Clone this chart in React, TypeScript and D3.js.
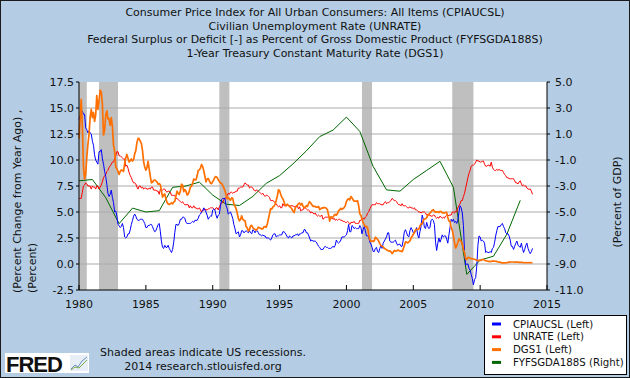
import React from "react";
import * as d3 from "d3";

// ---------- DATA (monthly from Jan 1980 unless noted) ----------
const START_YEAR = 1980;

const cpi: number[] = [
  13.9, 14.2, 14.8, 14.7, 14.4, 14.4, 13.1, 12.9, 12.6, 12.8, 12.6, 12.5,
  11.8, 11.4, 10.5, 10.0, 9.8, 9.6, 10.8, 10.8, 11.0, 10.1, 9.6, 8.9,
  8.4, 7.6, 6.8, 6.5, 6.7, 7.1, 6.4, 5.9, 5.0, 5.1, 4.6, 3.8,
  3.7, 3.5, 3.6, 3.9, 3.5, 2.6, 2.5, 2.6, 2.9, 2.9, 3.3, 3.8,
  4.2, 4.6, 4.8, 4.6, 4.3, 4.2, 4.2, 4.3, 4.3, 4.3, 4.1, 3.9,
  3.5, 3.5, 3.7, 3.7, 3.8, 3.8, 3.6, 3.3, 3.1, 3.2, 3.5, 3.8,
  3.9, 3.1, 2.2, 1.6, 1.5, 1.8, 1.6, 1.6, 1.8, 1.5, 1.3, 1.1,
  1.4, 2.1, 3.0, 3.8, 3.8, 3.7, 3.9, 4.3, 4.3, 4.5, 4.5, 4.4,
  4.0, 3.9, 3.9, 3.9, 3.9, 4.0, 4.1, 4.0, 4.2, 4.2, 4.2, 4.4,
  4.7, 4.8, 5.0, 5.1, 5.4, 5.2, 5.0, 4.7, 4.3, 4.5, 4.6, 4.6,
  5.2, 5.3, 5.2, 4.7, 4.4, 4.7, 4.8, 5.6, 6.2, 6.3, 6.3, 6.3,
  5.6, 5.3, 4.8, 4.9, 5.0, 4.7, 4.4, 3.8, 3.4, 2.9, 3.0, 3.1,
  2.6, 2.8, 3.2, 3.2, 3.0, 3.1, 3.2, 3.1, 3.0, 3.2, 3.0, 2.9,
  3.3, 3.2, 3.0, 3.2, 3.2, 3.0, 2.8, 2.8, 2.7, 2.8, 2.7, 2.7,
  2.5, 2.5, 2.5, 2.4, 2.3, 2.5, 2.8, 2.9, 2.9, 2.6, 2.7, 2.7,
  2.8, 2.8, 2.8, 3.1, 3.1, 3.0, 2.8, 2.6, 2.5, 2.7, 2.6, 2.5,
  2.7, 2.7, 2.8, 2.8, 2.9, 2.7, 2.9, 2.9, 3.0, 3.0, 3.3, 3.3,
  3.0, 3.0, 2.8, 2.5, 2.2, 2.3, 2.2, 2.2, 2.2, 2.1, 1.9, 1.7,
  1.6, 1.4, 1.4, 1.4, 1.6, 1.7, 1.6, 1.6, 1.5, 1.5, 1.5, 1.6,
  1.7, 1.6, 1.8, 2.3, 2.1, 2.0, 2.1, 2.3, 2.6, 2.6, 2.6, 2.7,
  2.8, 3.2, 3.8, 3.1, 3.1, 3.7, 3.6, 3.4, 3.5, 3.4, 3.4, 3.4,
  3.7, 3.5, 2.9, 3.3, 3.6, 3.2, 2.7, 2.7, 2.6, 2.1, 1.9, 1.6,
  1.2, 1.2, 1.5, 1.6, 1.2, 1.1, 1.5, 1.8, 1.5, 2.0, 2.2, 2.4,
  2.6, 3.0, 3.0, 2.2, 2.1, 2.1, 2.1, 2.2, 2.3, 2.0, 1.8, 1.9,
  1.9, 1.7, 1.7, 2.3, 3.1, 3.3, 3.0, 2.7, 2.6, 3.2, 3.5, 3.3,
  3.0, 3.0, 3.1, 3.5, 2.8, 2.5, 3.1, 3.6, 4.7, 4.3, 3.5, 3.4,
  4.0, 3.6, 3.4, 3.5, 4.2, 4.3, 4.2, 3.8, 2.1, 1.3, 2.0, 2.5,
  2.1, 2.4, 2.8, 2.6, 2.7, 2.7, 2.4, 2.0, 2.8, 3.5, 4.3, 4.1,
  4.3, 4.0, 4.1, 3.9, 4.2, 5.0, 5.6, 5.4, 4.9, 3.7, 1.1, -0.1,
  0.0, 0.0, -0.4, -0.6, -1.0, -1.4, -2.0, -1.5, -1.3, -0.2, 1.8, 2.7,
  2.6, 2.2, 2.3, 2.2, 2.0, 1.1, 1.2, 1.1, 1.1, 1.2, 1.1, 1.5,
  1.6, 2.1, 2.7, 3.2, 3.6, 3.6, 3.6, 3.8, 3.9, 3.6, 3.4, 3.0,
  2.9, 2.9, 2.7, 2.3, 1.7, 1.7, 1.4, 1.7, 2.0, 2.2, 1.8, 1.7,
  1.6, 2.0, 1.5, 1.1, 1.4, 1.8, 2.0, 1.5, 1.2, 1.0, 1.2, 1.5,
];

const unrate: number[] = [
  6.3, 6.3, 6.3, 6.9, 7.5, 7.6, 7.8, 7.7, 7.5, 7.5, 7.5, 7.2,
  7.5, 7.4, 7.4, 7.2, 7.5, 7.5, 7.2, 7.4, 7.6, 7.9, 8.3, 8.5,
  8.6, 8.9, 9.0, 9.3, 9.4, 9.6, 9.8, 9.8, 10.1, 10.4, 10.8, 10.8,
  10.4, 10.4, 10.3, 10.2, 10.1, 10.1, 9.4, 9.5, 9.2, 8.8, 8.5, 8.3,
  8.0, 7.8, 7.8, 7.7, 7.4, 7.2, 7.5, 7.5, 7.3, 7.4, 7.2, 7.3,
  7.3, 7.2, 7.2, 7.3, 7.2, 7.4, 7.4, 7.1, 7.1, 7.1, 7.0, 7.0,
  6.7, 7.2, 7.2, 7.1, 7.2, 7.2, 7.0, 6.9, 7.0, 7.0, 6.9, 6.6,
  6.6, 6.6, 6.6, 6.3, 6.3, 6.2, 6.1, 6.0, 5.9, 6.0, 5.8, 5.7,
  5.7, 5.7, 5.7, 5.4, 5.6, 5.4, 5.4, 5.6, 5.4, 5.4, 5.3, 5.3,
  5.4, 5.2, 5.0, 5.2, 5.2, 5.3, 5.2, 5.2, 5.3, 5.3, 5.4, 5.4,
  5.4, 5.3, 5.2, 5.4, 5.4, 5.2, 5.5, 5.7, 5.9, 5.9, 6.2, 6.3,
  6.4, 6.6, 6.8, 6.7, 6.9, 6.9, 6.8, 6.9, 6.9, 7.0, 7.0, 7.3,
  7.3, 7.4, 7.4, 7.4, 7.6, 7.8, 7.7, 7.6, 7.6, 7.3, 7.4, 7.4,
  7.3, 7.1, 7.0, 7.1, 7.1, 7.0, 6.9, 6.8, 6.7, 6.8, 6.6, 6.5,
  6.6, 6.6, 6.5, 6.4, 6.1, 6.1, 6.1, 6.0, 5.9, 5.8, 5.6, 5.5,
  5.6, 5.4, 5.4, 5.8, 5.6, 5.6, 5.7, 5.7, 5.6, 5.5, 5.6, 5.6,
  5.6, 5.5, 5.5, 5.6, 5.6, 5.3, 5.5, 5.1, 5.2, 5.2, 5.4, 5.4,
  5.3, 5.2, 5.2, 5.1, 4.9, 5.0, 4.9, 4.8, 4.9, 4.7, 4.6, 4.7,
  4.6, 4.6, 4.7, 4.3, 4.4, 4.5, 4.5, 4.5, 4.6, 4.5, 4.4, 4.4,
  4.3, 4.4, 4.2, 4.3, 4.2, 4.3, 4.3, 4.2, 4.2, 4.1, 4.1, 4.0,
  4.0, 4.1, 4.0, 3.8, 4.0, 4.0, 4.0, 4.1, 3.9, 3.9, 3.9, 3.9,
  4.2, 4.2, 4.3, 4.4, 4.3, 4.5, 4.6, 4.9, 5.0, 5.3, 5.5, 5.7,
  5.7, 5.7, 5.7, 5.9, 5.8, 5.8, 5.8, 5.7, 5.7, 5.7, 5.9, 6.0,
  5.8, 5.9, 5.9, 6.0, 6.1, 6.3, 6.2, 6.1, 6.1, 6.0, 5.8, 5.7,
  5.7, 5.6, 5.8, 5.6, 5.6, 5.6, 5.5, 5.4, 5.4, 5.5, 5.4, 5.4,
  5.3, 5.4, 5.2, 5.2, 5.1, 5.0, 5.0, 4.9, 5.0, 5.0, 5.0, 4.9,
  4.7, 4.8, 4.7, 4.7, 4.6, 4.6, 4.7, 4.7, 4.5, 4.4, 4.5, 4.4,
  4.6, 4.5, 4.4, 4.5, 4.4, 4.6, 4.7, 4.6, 4.7, 4.7, 4.7, 5.0,
  5.0, 4.9, 5.1, 5.0, 5.4, 5.6, 5.8, 6.1, 6.1, 6.5, 6.8, 7.3,
  7.8, 8.3, 8.7, 9.0, 9.4, 9.5, 9.5, 9.6, 9.8, 10.0, 9.9, 9.9,
  9.8, 9.8, 9.9, 9.9, 9.6, 9.4, 9.4, 9.5, 9.5, 9.4, 9.8, 9.3,
  9.1, 9.0, 9.0, 9.1, 9.0, 9.1, 9.0, 9.0, 9.0, 8.8, 8.6, 8.5,
  8.3, 8.3, 8.2, 8.2, 8.2, 8.2, 8.2, 8.0, 7.8, 7.8, 7.7, 7.9,
  8.0, 7.7, 7.5, 7.6, 7.5, 7.5, 7.3, 7.2, 7.2, 7.2, 7.0, 6.7,
];

const dgs1: number[] = [
  12.06, 13.92, 15.82, 13.3, 9.39, 8.16, 8.65, 10.24, 11.52, 12.49, 14.15, 14.88,
  14.08, 14.57, 13.71, 14.32, 16.2, 14.86, 15.72, 16.72, 16.52, 15.38, 12.41, 12.85,
  14.32, 14.73, 13.95, 13.98, 13.34, 14.07, 13.24, 11.43, 10.85, 9.32, 9.16, 8.91,
  8.62, 8.92, 9.04, 8.98, 8.9, 9.66, 10.2, 10.53, 10.16, 9.81, 9.94, 10.11,
  9.9, 10.04, 10.59, 10.9, 11.66, 12.08, 12.03, 11.82, 11.58, 10.9, 9.82, 9.33,
  9.02, 9.29, 9.86, 9.14, 8.46, 7.8, 7.86, 8.05, 8.07, 8.01, 7.88, 7.67,
  7.73, 7.61, 7.03, 6.44, 6.65, 6.73, 6.27, 5.93, 5.77, 5.72, 5.8, 5.87,
  5.78, 5.96, 6.03, 6.5, 7.0, 6.8, 6.68, 7.03, 7.67, 7.59, 6.96, 7.17,
  6.99, 6.64, 6.71, 7.01, 7.4, 7.49, 7.75, 8.17, 8.09, 8.11, 8.48, 8.99,
  9.05, 9.25, 9.57, 9.36, 8.98, 8.44, 7.89, 8.18, 8.22, 7.99, 7.77, 7.72,
  7.92, 8.11, 8.35, 8.4, 8.32, 8.1, 7.94, 7.78, 7.76, 7.55, 7.31, 7.05,
  6.64, 6.27, 6.4, 6.24, 6.13, 6.36, 6.31, 5.78, 5.57, 5.33, 4.89, 4.38,
  4.15, 4.29, 4.63, 4.3, 4.19, 4.17, 3.6, 3.47, 3.18, 3.3, 3.68, 3.71,
  3.5, 3.39, 3.33, 3.24, 3.36, 3.54, 3.47, 3.44, 3.36, 3.39, 3.58, 3.61,
  3.54, 3.87, 4.32, 4.82, 5.31, 5.27, 5.48, 5.56, 5.76, 6.11, 6.54, 7.14,
  7.05, 6.7, 6.43, 6.27, 6.0, 5.64, 5.59, 5.75, 5.62, 5.59, 5.43, 5.31,
  5.09, 4.94, 5.34, 5.54, 5.64, 5.81, 5.85, 5.67, 5.83, 5.55, 5.42, 5.47,
  5.61, 5.53, 5.8, 5.99, 5.87, 5.69, 5.54, 5.56, 5.52, 5.46, 5.46, 5.53,
  5.24, 5.31, 5.39, 5.38, 5.44, 5.41, 5.36, 5.21, 4.71, 4.12, 4.53, 4.52,
  4.51, 4.7, 4.78, 4.69, 4.85, 5.1, 5.2, 5.35, 5.26, 5.34, 5.42, 5.62,
  6.0, 6.2, 6.27, 6.16, 6.48, 6.36, 6.17, 6.05, 6.05, 6.01, 6.09, 5.6,
  4.81, 4.68, 4.3, 3.98, 3.78, 3.58, 3.62, 3.47, 2.82, 2.33, 2.18, 2.22,
  2.16, 2.23, 2.57, 2.48, 2.35, 2.2, 1.96, 1.76, 1.72, 1.65, 1.49, 1.45,
  1.36, 1.3, 1.24, 1.27, 1.18, 1.01, 1.12, 1.31, 1.24, 1.25, 1.34, 1.31,
  1.24, 1.24, 1.19, 1.43, 1.78, 2.12, 2.1, 2.02, 2.12, 2.23, 2.5, 2.67,
  2.86, 3.03, 3.3, 3.32, 3.33, 3.36, 3.64, 3.87, 3.85, 4.18, 4.33, 4.35,
  4.45, 4.68, 4.77, 4.9, 5.0, 5.16, 5.22, 5.08, 4.97, 5.01, 5.01, 4.94,
  5.06, 5.05, 4.92, 4.93, 4.91, 4.96, 4.96, 4.47, 4.14, 4.1, 3.5, 3.26,
  2.71, 2.05, 1.54, 1.74, 2.06, 2.42, 2.28, 2.18, 1.91, 1.42, 1.07, 0.49,
  0.44, 0.62, 0.64, 0.55, 0.5, 0.51, 0.48, 0.46, 0.4, 0.37, 0.31, 0.37,
  0.35, 0.35, 0.4, 0.45, 0.37, 0.32, 0.29, 0.26, 0.26, 0.23, 0.25, 0.29,
  0.27, 0.29, 0.26, 0.25, 0.19, 0.18, 0.19, 0.11, 0.1, 0.11, 0.11, 0.12,
  0.12, 0.16, 0.19, 0.18, 0.19, 0.19, 0.19, 0.18, 0.18, 0.18, 0.18, 0.16,
  0.15, 0.16, 0.15, 0.12, 0.12, 0.14, 0.12, 0.13, 0.12, 0.13, 0.12, 0.13,
];

// annual (plotted at Jan 1 of each year)
const deficitYears: number[] = d3.range(1980, 2014);
const deficit: number[] = [
  -2.6, -2.5, -3.9, -5.9, -4.7, -5.0, -4.9, -3.1, -3.0, -2.7,
  -3.7, -4.4, -4.5, -3.8, -2.8, -2.2, -1.3, -0.3, 0.8, 1.3,
  2.3, 1.2, -1.5, -3.3, -3.4, -2.5, -1.8, -1.1, -3.1, -9.8,
  -8.7, -8.4, -6.7, -4.1,
];

// recessions [start, end) as year-month
const recessions: [string, string][] = [
  ["1980-01", "1980-08"],
  ["1981-07", "1982-12"],
  ["1990-07", "1991-04"],
  ["2001-03", "2001-12"],
  ["2007-12", "2009-07"],
];

const leftTicks: number[] = [-2.5, 0, 2.5, 5, 7.5, 10, 12.5, 15, 17.5];
const rightTicks: number[] = [-11, -9, -7, -5, -3, -1, 1, 3, 5];
const xTickYears: number[] = [1980, 1985, 1990, 1995, 2000, 2005, 2010, 2015];

const titleLines: string[] = [
  "Consumer Price Index for All Urban Consumers: All Items (CPIAUCSL)",
  "Civilian Unemployment Rate (UNRATE)",
  "Federal Surplus or Deficit [-] as Percent of Gross Domestic Product (FYFSGDA188S)",
  "1-Year Treasury Constant Maturity Rate (DGS1)",
];

const legendItems: { label: string; color: string }[] = [
  { label: "CPIAUCSL (Left)", color: "#0000ff" },
  { label: "UNRATE (Left)", color: "#ff0000" },
  { label: "DGS1 (Left)", color: "#ff7000" },
  { label: "FYFSGDA188S (Right)", color: "#006600" },
];

// ---------- LAYOUT ----------
const W = 630;
const H = 378;
const PL = 79;
const PR = 547;
const PT = 82;
const PB = 290;
const FONT = "DejaVu Sans, Verdana, sans-serif";

const monthDate = (i: number) => new Date(START_YEAR + Math.floor(i / 12), i % 12, 1);
const ymDate = (s: string) => {
  const [y, m] = s.split("-").map(Number);
  return new Date(y, m - 1, 1);
};

export default function App() {
  const x = d3.scaleTime().domain([new Date(1980, 0, 1), new Date(2015, 0, 1)]).range([PL, PR]);
  const yL = d3.scaleLinear().domain([-2.5, 17.5]).range([PB, PT]);
  const yR = d3.scaleLinear().domain([-11, 5]).range([PB, PT]);

  const monthlyLine = (arr: number[]) =>
    d3
      .line<number>()
      .x((_, i) => x(monthDate(i)))
      .y((v) => yL(v))(arr) || "";

  const defLine =
    d3
      .line<number>()
      .x((_, i) => x(new Date(deficitYears[i], 0, 1)))
      .y((v) => yR(v))(deficit) || "";

  return (
    <svg
      width={W}
      height={H}
      style={{ position: "absolute", left: 0, top: 0, display: "block" }}
      fontFamily={FONT}
    >
      <rect x={0.5} y={0.5} width={W - 1} height={H - 1} fill="#b4cde4" stroke="#1a1a1a" />
      {titleLines.map((t, i) => (
        <text key={i} x={315} y={16 + i * 13.5} textAnchor="middle" fontSize={11} fill="#111">
          {t}
        </text>
      ))}

      {/* plot background */}
      <rect x={PL} y={PT} width={PR - PL} height={PB - PT} fill="#ffffff" />
      {/* recessions */}
      {recessions.map(([s, e], i) => (
        <rect
          key={i}
          x={x(ymDate(s))}
          y={PT}
          width={x(ymDate(e)) - x(ymDate(s))}
          height={PB - PT}
          fill="#bfbfbf"
        />
      ))}
      {/* gridlines */}
      {leftTicks
        .filter((t) => t > -2.5 && t < 17.5)
        .map((t) => (
          <line key={t} x1={PL} x2={PR} y1={yL(t)} y2={yL(t)} stroke="#aaaaaa" strokeWidth={1} />
        ))}

      {/* series */}
      <path d={defLine} fill="none" stroke="#006600" strokeWidth={1} />
      <path d={monthlyLine(unrate)} fill="none" stroke="#ff0000" strokeWidth={1} />
      <path d={monthlyLine(cpi)} fill="none" stroke="#0000ff" strokeWidth={1} />
      <path d={monthlyLine(dgs1)} fill="none" stroke="#ff7000" strokeWidth={1.7} strokeLinejoin="round" />

      {/* axes */}
      <line x1={PL} x2={PL} y1={PT} y2={PB} stroke="#000" />
      <line x1={PR} x2={PR} y1={PT} y2={PB} stroke="#000" />
      <line x1={PL} x2={PR} y1={PB} y2={PB} stroke="#000" />
      {leftTicks.map((t) => (
        <g key={t}>
          <line x1={PL - 3} x2={PL} y1={yL(t)} y2={yL(t)} stroke="#000" />
          <text x={PL - 5} y={yL(t) + 4} textAnchor="end" fontSize={11} fill="#111">
            {t.toFixed(1)}
          </text>
        </g>
      ))}
      {rightTicks.map((t) => (
        <g key={t}>
          <line x1={PR} x2={PR + 3} y1={yR(t)} y2={yR(t)} stroke="#000" />
          <text x={PR + 8} y={yR(t) + 4} textAnchor="start" fontSize={11} fill="#111">
            {t.toFixed(1)}
          </text>
        </g>
      ))}
      {xTickYears.map((yr) => {
        const xx = x(new Date(yr, 0, 1));
        return (
          <g key={yr}>
            <line x1={xx} x2={xx} y1={PB} y2={PB - 5} stroke="#000" />
            <text x={xx} y={308} textAnchor="middle" fontSize={11} fill="#111">
              {yr}
            </text>
          </g>
        );
      })}

      {/* axis titles */}
      <text transform="translate(21,293) rotate(-90)" textAnchor="start" fontSize={11} fill="#111">
        (Percent Change from Year Ago) ,
      </text>
      <text transform="translate(36,293) rotate(-90)" textAnchor="start" fontSize={11} fill="#111">
        (Percent)
      </text>
      <text transform="translate(621,202) rotate(-90)" textAnchor="middle" fontSize={11} fill="#111">
        (Percent of GDP)
      </text>

      {/* legend */}
      <rect x={484.5} y={315.5} width={142} height={59} fill="#ffffff" stroke="#000" />
      {legendItems.map((it, i) => (
        <g key={it.label}>
          <line x1={492} x2={501} y1={324 + i * 12.8} y2={324 + i * 12.8} stroke={it.color} strokeWidth={3} />
          <text x={513} y={327.5 + i * 12.8} fontSize={10.2} fill="#111">
            {it.label}
          </text>
        </g>
      ))}

      {/* notes */}
      <text x={203} y={356} textAnchor="middle" fontSize={11} fill="#111">
        Shaded areas indicate US recessions.
      </text>
      <text x={203} y={370} textAnchor="middle" fontSize={11} fill="#111">
        2014 research.stlouisfed.org
      </text>

      {/* FRED logo */}
      <rect x={5} y={353} width={84} height={20} fill="#ffffff" />
      <text x={6} y={372} fontSize={22} fontWeight="bold" fill="#111" fontFamily="Liberation Sans, Arial, sans-serif" letterSpacing={-1}>
        FRED
      </text>
      <rect x={70} y={355} width={18} height={16} fill="#e8eef5" />
      <polyline points="71,369 75,365 78,367 82,361 87,357" fill="none" stroke="#6a8fc0" strokeWidth={1} />
      <polyline points="71,370 75,367 79,368 83,364 87,360" fill="none" stroke="#7aa84a" strokeWidth={1} />
    </svg>
  );
}
